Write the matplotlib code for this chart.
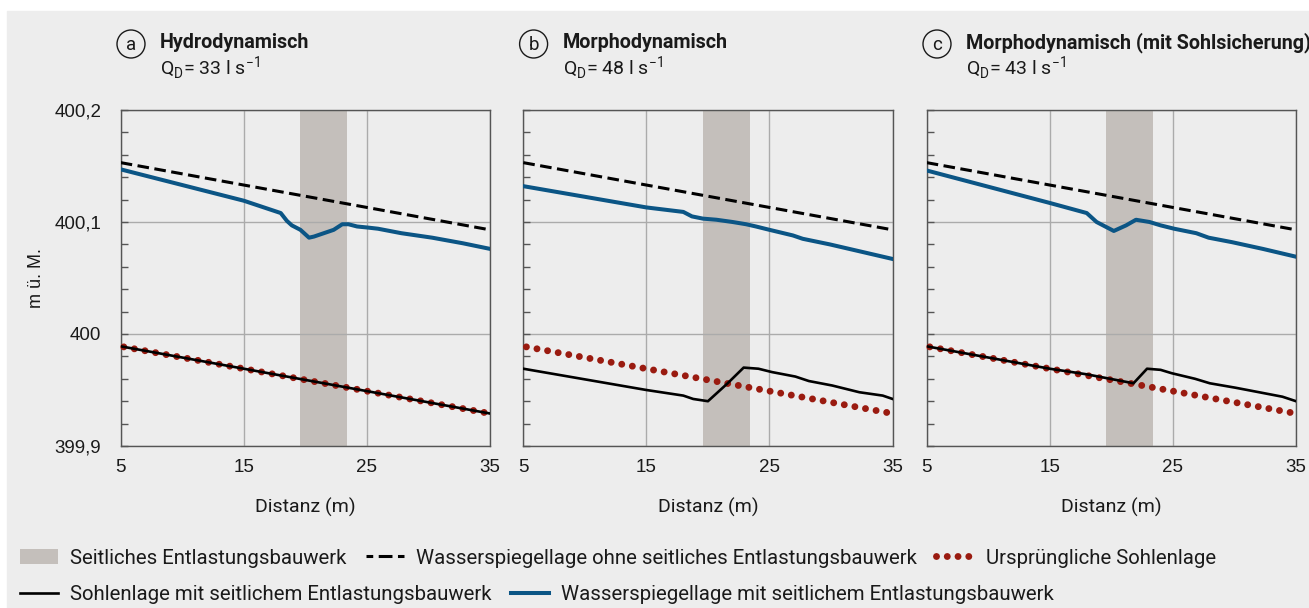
import matplotlib
matplotlib.use("Agg")
import matplotlib.pyplot as plt
from matplotlib.patches import Rectangle, Circle, Patch
from matplotlib.lines import Line2D
from matplotlib.ticker import MultipleLocator, FixedLocator

W, H = 1309, 608

# --- data ------------------------------------------------------------------
span = (19.6, 23.4)  # seitliches Entlastungsbauwerk

x_dash = [5, 35]
y_dash = [400.153, 400.093]

x_red = [5.25, 34.85]
y_red = [399.9885, 399.9293]

# panel a
xa_blue = [5, 10, 15, 18, 18.5, 18.9, 19.6, 19.9, 20.3, 20.7, 21.5, 22.3, 23.0, 23.5, 24.2,
           25.1, 25.9, 27.8, 30.3, 32.8, 35]
ya_blue = [400.147, 400.133, 400.119, 400.108, 400.101, 400.097, 400.093, 400.090, 400.086,
           400.087, 400.090, 400.093, 400.098, 400.098, 400.096, 400.095, 400.094, 400.090,
           400.086, 400.081, 400.076]
xa_black = [5, 35]
ya_black = [399.989, 399.929]

# panel b
xb_blue = [5, 15, 18, 18.7, 19.6, 20.7, 22.0, 23.1, 23.9, 25.0, 26.9, 27.7, 29.9, 35]
yb_blue = [400.132, 400.113, 400.109, 400.105, 400.103, 400.102, 400.100, 400.098, 400.096,
           400.093, 400.088, 400.085, 400.080, 400.067]
xb_black = [5, 15, 18, 18.8, 20.0, 21.6, 22.9, 24.1, 25.2, 27.1, 28.2, 30.1, 32.3, 34.2, 35]
yb_black = [399.969, 399.950, 399.945, 399.942, 399.940, 399.956, 399.970, 399.969, 399.966,
            399.962, 399.958, 399.954, 399.948, 399.945, 399.942]

# panel c
xc_blue = [5, 15, 18, 18.8, 20.2, 21.2, 22.0, 23.1, 24.0, 25.1, 26.9, 27.9, 29.8, 32.3, 35]
yc_blue = [400.146, 400.117, 400.108, 400.100, 400.092, 400.097, 400.102, 400.100, 400.097,
           400.094, 400.090, 400.086, 400.082, 400.076, 400.069]
xc_black = [5, 15, 18, 21.8, 22.9, 24.0, 24.9, 26.8, 28.0, 30.1, 32.0, 33.9, 35]
yc_black = [399.989, 399.969, 399.964, 399.956, 399.969, 399.968, 399.965, 399.960, 399.956,
            399.952, 399.948, 399.944, 399.940]

letters = ["a", "b", "c"]
titles = ["Hydrodynamisch", "Morphodynamisch", "Morphodynamisch (mit Sohlsicherung)"]
discharge = [33, 48, 43]
panels = [(xa_blue, ya_blue, xa_black, ya_black),
          (xb_blue, yb_blue, xb_black, yb_black),
          (xc_blue, yc_blue, xc_black, yc_black)]

x_ticks = [5, 15, 25, 35]
y_ticks = [399.9, 400.0, 400.1, 400.2]
y_labels = ["399,9", "400", "400,1", "400,2"]

legend_labels = ["Seitliches Entlastungsbauwerk",
                 "Wasserspiegellage ohne seitliches Entlastungsbauwerk",
                 "Ursprüngliche Sohlenlage",
                 "Sohlenlage mit seitlichem Entlastungsbauwerk",
                 "Wasserspiegellage mit seitlichem Entlastungsbauwerk"]

# --- styles -----------------------------------------------------------------
BG = "#ededed"
SPAN = "#c4bfbb"
BLUE = "#0b5585"
RED = "#9a1b10"
GRID = "#ababab"
SPINE = "#555555"
TXT = "#1a1a1a"
SANS = ["Roboto", "DejaVu Sans"]
TICKF = ["Liberation Sans", "DejaVu Sans"]

red_style = dict(color=RED, lw=5.0, linestyle=(0, (0.001, 1.55)), dash_capstyle="round")


def px(x, y):
    return x / W, 1 - y / H


fig = plt.figure(figsize=(W / 100, H / 100), dpi=100)
fig.patch.set_facecolor("white")
fig.add_artist(Rectangle((7 / W, 0), 1, (H - 11) / H, transform=fig.transFigure,
                         color=BG, zorder=-10))

lefts = [120.7, 523.3, 926.7]
aw, top, bot = 369.3, 110, 446

for i, left in enumerate(lefts):
    xb, yb, xk, yk = panels[i]
    ax = fig.add_axes([left / W, (H - bot) / H, aw / W, (bot - top) / H])
    ax.set_facecolor(BG)
    ax.axvspan(*span, color=SPAN, lw=0, zorder=1)
    ax.plot(x_dash, y_dash, color="black", lw=2.2, linestyle=(0, (3.8, 1.8)), zorder=3)
    ax.plot(x_red, y_red, zorder=3, clip_on=False, **red_style)
    ax.plot(xk, yk, color="black", lw=1.9, zorder=4, solid_joinstyle="round")
    ax.plot(xb, yb, color=BLUE, lw=2.9, zorder=4, solid_joinstyle="round")

    ax.set_xlim(5, 35)
    ax.set_ylim(399.9, 400.2)
    ax.xaxis.set_major_locator(FixedLocator(x_ticks))
    ax.yaxis.set_major_locator(FixedLocator(y_ticks))
    ax.yaxis.set_minor_locator(MultipleLocator(0.02))
    ax.grid(True, which="major", color=GRID, lw=1, zorder=0)
    for s in ax.spines.values():
        s.set_color(SPINE)
        s.set_linewidth(1)
    ax.tick_params(axis="y", which="both", direction="in", length=5, width=1, color=SPINE,
                   labelsize=13.5, labelcolor=TXT, pad=14)
    ax.tick_params(axis="x", length=0, labelsize=13.5, labelcolor=TXT, pad=9)
    for lab in ax.get_xticklabels() + ax.get_yticklabels():
        lab.set_family(TICKF)
    if i == 0:
        ax.set_yticklabels(y_labels)
        ax.set_ylabel("m ü. M.", fontsize=13, family=TICKF, color=TXT, labelpad=7)
    else:
        ax.set_yticklabels([])
    ax.set_xlabel("Distanz (m)", fontsize=14, family=SANS, color=TXT, labelpad=16)

    cx = left + 10.3
    fig.add_artist(Circle((cx / 100, (H - 44) / 100), 0.14, transform=fig.dpi_scale_trans,
                          fill=False, ec=TXT, lw=1))
    fig.text(*px(cx, 44.5), letters[i], ha="center", va="center", fontsize=13.5,
             family=SANS, color=TXT)
    fig.text(*px(left + 39.3, 43), titles[i], ha="left", va="center", fontsize=14.2,
             fontweight="bold", family=SANS, color=TXT)
    fig.text(*px(left + 39.3, 68),
             "Q$_{\\mathregular{D}}$= %d l s$^{\\mathregular{−1}}$" % discharge[i],
             ha="left", va="center", fontsize=14, family=SANS, color=TXT)

h_span = Patch(fc=SPAN, ec="none")
h_dash = Line2D([], [], color="black", lw=2.2, linestyle=(0, (2.2, 1.8, 4.5, 1.8)))
h_red = Line2D([], [], **red_style)
h_black = Line2D([], [], color="black", lw=1.9)
h_blue = Line2D([], [], color=BLUE, lw=2.9)

leg_kw = dict(frameon=False, borderpad=0, borderaxespad=0, handlelength=1.85,
              handletextpad=0.6, columnspacing=0.95, labelcolor=TXT,
              prop=dict(family=SANS, size=14.7))
leg1 = fig.legend([h_span, h_dash, h_red], legend_labels[:3], loc="center left",
                  bbox_to_anchor=px(20, 558), ncol=3, **leg_kw)
leg2 = fig.legend([h_black, h_blue], legend_labels[3:], loc="center left",
                  bbox_to_anchor=px(20, 595), ncol=2, **leg_kw)

fig.savefig("out.png", dpi=100, facecolor=fig.get_facecolor())
